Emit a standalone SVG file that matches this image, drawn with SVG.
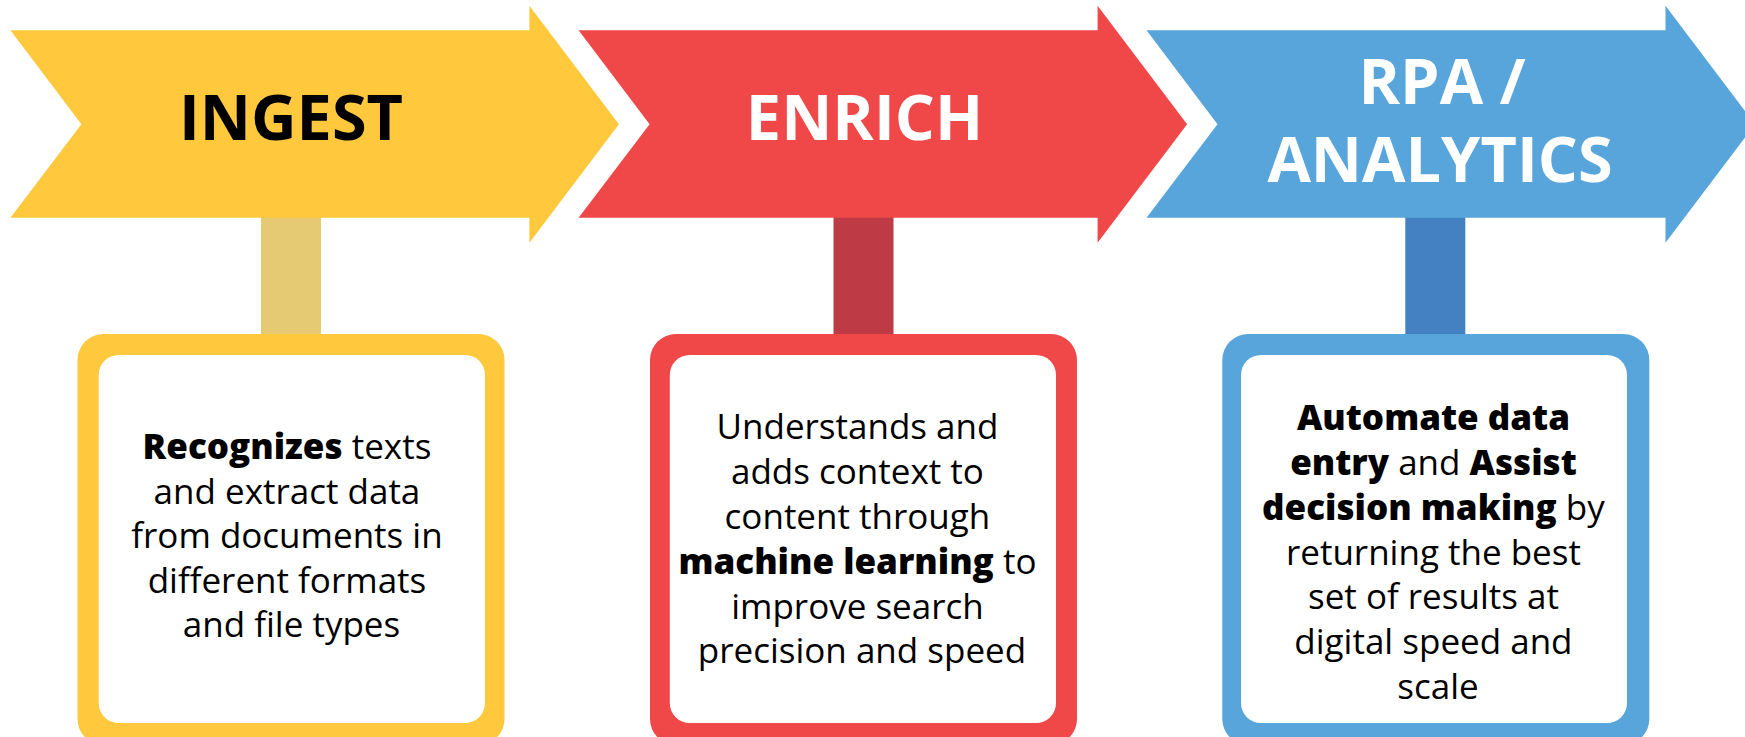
<svg xmlns="http://www.w3.org/2000/svg" width="1745" height="737" viewBox="0 0 1745 737">
  <defs>
    <path id="chev" d="M0,30.3 L519,30.3 L519,5.7 L608.5,124.2 L519,242.7 L519,217.7 L0,217.7 L71,124.2 Z"/>
    <style>
      .title { font-family: "Open Sans", "Noto Sans", "Liberation Sans", sans-serif; font-weight: 700; font-size: 63px; text-anchor: middle; }
      .body { font-family: "Open Sans", "Noto Sans", "Liberation Sans", sans-serif; font-weight: 400; font-size: 35px; text-anchor: middle; fill: #000; }
      .b { font-weight: 800; }
      .inner { fill: #ffffff; }
    </style>
  </defs>
  <rect width="1745" height="737" fill="#ffffff"/>

  <g id="connectors">
    <rect x="261" y="217" width="60" height="118" fill="#E5C973"/>
    <rect x="833.5" y="217" width="60" height="118" fill="#BE3A45"/>
    <rect x="1405.3" y="217" width="60" height="118" fill="#4481C2"/>
  </g>

  <g id="ingest">
    <use href="#chev" transform="translate(10.4,0)" fill="#FFC83D"/>
    <text class="title" x="291" y="140" fill="#000000">INGEST</text>
  </g>
  <g id="enrich">
    <use href="#chev" transform="translate(578.6,0)" fill="#F04848"/>
    <text class="title" x="864.5" y="140" fill="#ffffff">ENRICH</text>
  </g>
  <g id="rpa">
    <use href="#chev" transform="translate(1146.5,0)" fill="#57A5DB"/>
    <text class="title" fill="#ffffff"><tspan x="1442" y="104.3">RPA /</tspan><tspan x="1440" y="181.7">ANALYTICS</tspan></text>
  </g>

  <g id="ingest-box">
    <rect x="77.5" y="334" width="427" height="411" rx="26" fill="#FFC83D"/>
    <rect class="inner" x="98.7" y="355" width="386.3" height="368" rx="20"/>
    <text class="body">
      <tspan x="291.5" y="459"><tspan class="b">Recognizes</tspan> texts</tspan>
      <tspan x="291.5" y="503.6">and extract data</tspan>
      <tspan x="291.5" y="548.2">from documents in</tspan>
      <tspan x="291.5" y="592.8">different formats</tspan>
      <tspan x="291.5" y="637.4">and file types</tspan>
    </text>
  </g>
  <g id="enrich-box">
    <rect x="650" y="334" width="427" height="411" rx="26" fill="#F04848"/>
    <rect class="inner" x="669.8" y="355" width="386.2" height="368" rx="20"/>
    <text class="body">
      <tspan x="862" y="439.3">Understands and</tspan>
      <tspan x="862" y="484.1">adds context to</tspan>
      <tspan x="862" y="528.9">content through</tspan>
      <tspan x="862" y="573.7"><tspan class="b">machine learning</tspan> to</tspan>
      <tspan x="862" y="618.5">improve search</tspan>
      <tspan x="862" y="663.3">precision and speed</tspan>
    </text>
  </g>
  <g id="rpa-box">
    <rect x="1222.3" y="334" width="427" height="411" rx="26" fill="#57A5DB"/>
    <rect class="inner" x="1241" y="355" width="386" height="368" rx="20"/>
    <text class="body">
      <tspan x="1438" y="430" class="b">Automate data</tspan>
      <tspan x="1438" y="475"><tspan class="b">entry</tspan> and <tspan class="b">Assist</tspan></tspan>
      <tspan x="1438" y="520"><tspan class="b">decision making</tspan> by</tspan>
      <tspan x="1438" y="564.5">returning the best</tspan>
      <tspan x="1438" y="609.3">set of results at</tspan>
      <tspan x="1438" y="654.2">digital speed and</tspan>
      <tspan x="1438" y="699">scale</tspan>
    </text>
  </g>
</svg>
